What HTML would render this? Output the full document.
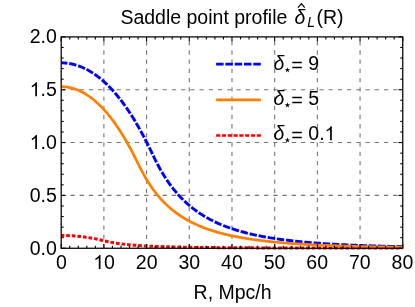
<!DOCTYPE html>
<html><head><meta charset="utf-8"><title>Saddle point profile</title>
<style>
html,body{margin:0;padding:0;background:#fff;}
svg{display:block;will-change:transform;}
text{font-family:"Liberation Sans",sans-serif;font-size:19.5px;fill:#000;}
.it{font-style:italic;}
</style></head><body>
<svg width="415" height="307" viewBox="0 0 415 307">
<rect x="0" y="0" width="415" height="307" fill="#fff"/>
<g stroke="#767676" stroke-width="1.1" stroke-dasharray="4.3 4.92" fill="none">
<line x1="103.89" y1="248.25" x2="103.89" y2="36.9"/>
<line x1="146.59" y1="248.25" x2="146.59" y2="36.9"/>
<line x1="189.28" y1="248.25" x2="189.28" y2="36.9"/>
<line x1="231.98" y1="248.25" x2="231.98" y2="36.9"/>
<line x1="274.67" y1="248.25" x2="274.67" y2="36.9"/>
<line x1="317.36" y1="248.25" x2="317.36" y2="36.9"/>
<line x1="360.06" y1="248.25" x2="360.06" y2="36.9"/>
<line x1="61.2" y1="195.41" x2="402.75" y2="195.41"/>
<line x1="61.2" y1="142.57" x2="402.75" y2="142.57"/>
<line x1="61.2" y1="89.74" x2="402.75" y2="89.74"/>
</g>
<clipPath id="c"><rect x="61.2" y="36.9" width="341.55" height="214.35"/></clipPath>
<g fill="none" clip-path="url(#c)">
<path d="M61.20,235.48 L62.27,235.48 L63.33,235.49 L64.40,235.51 L65.47,235.53 L66.54,235.56 L67.60,235.59 L68.67,235.64 L69.74,235.69 L70.81,235.74 L71.87,235.80 L72.94,235.87 L74.01,235.95 L75.08,236.03 L76.14,236.12 L77.21,236.22 L78.28,236.32 L79.34,236.43 L80.41,236.54 L81.48,236.66 L82.55,236.79 L83.61,236.93 L84.68,237.07 L85.75,237.22 L86.82,237.37 L87.88,237.53 L88.95,237.70 L90.02,237.88 L91.09,238.06 L92.15,238.24 L93.22,238.44 L94.29,238.64 L95.36,238.85 L96.42,239.06 L97.49,239.28 L98.56,239.51 L99.62,239.74 L100.69,239.97 L101.76,240.22 L102.83,240.46 L103.89,240.71 L104.96,240.97 L106.03,241.22 L107.10,241.47 L108.16,241.70 L109.23,241.93 L110.30,242.14 L111.37,242.35 L112.43,242.55 L113.50,242.74 L114.57,242.92 L115.63,243.10 L116.70,243.26 L117.77,243.42 L118.84,243.58 L119.90,243.72 L120.97,243.86 L122.04,244.00 L123.11,244.13 L124.17,244.25 L125.24,244.37 L126.31,244.48 L127.38,244.59 L128.44,244.70 L129.51,244.80 L130.58,244.90 L131.64,244.99 L132.71,245.08 L133.78,245.17 L134.85,245.25 L135.91,245.33 L136.98,245.41 L138.05,245.48 L139.12,245.56 L140.18,245.62 L141.25,245.69 L142.32,245.76 L143.39,245.82 L144.45,245.88 L145.52,245.94 L146.59,246.00 L147.65,246.05 L148.72,246.10 L149.79,246.15 L150.86,246.20 L151.92,246.25 L152.99,246.30 L154.06,246.34 L155.13,246.39 L156.19,246.43 L157.26,246.47 L158.33,246.51 L159.40,246.55 L160.46,246.58 L161.53,246.62 L162.60,246.65 L163.67,246.69 L164.73,246.72 L165.80,246.75 L166.87,246.79 L167.93,246.82 L169.00,246.84 L170.07,246.87 L171.14,246.90 L172.20,246.93 L173.27,246.95 L174.34,246.98 L175.41,247.01 L176.47,247.03 L177.54,247.05 L178.61,247.08 L179.68,247.10 L180.74,247.12 L181.81,247.14 L182.88,247.16 L183.94,247.18 L185.01,247.20 L186.08,247.22 L187.15,247.24 L188.21,247.26 L189.28,247.28 L190.35,247.29 L191.42,247.31 L192.48,247.33 L193.55,247.34 L194.62,247.36 L195.69,247.38 L196.75,247.39 L197.82,247.41 L198.89,247.42 L199.95,247.43 L201.02,247.45 L202.09,247.46 L203.16,247.47 L204.22,247.49 L205.29,247.50 L206.36,247.51 L207.43,247.52 L208.49,247.54 L209.56,247.55 L210.63,247.56 L211.70,247.57 L212.76,247.58 L213.83,247.59 L214.90,247.60 L215.96,247.61 L217.03,247.62 L218.10,247.63 L219.17,247.64 L220.23,247.65 L221.30,247.66 L222.37,247.67 L223.44,247.68 L224.50,247.68 L225.57,247.69 L226.64,247.70 L227.71,247.71 L228.77,247.72 L229.84,247.72 L230.91,247.73 L231.98,247.74 L234.11,247.75 L236.24,247.77 L238.38,247.78 L240.51,247.79 L242.65,247.81 L244.78,247.82 L246.92,247.83 L249.05,247.84 L251.19,247.85 L253.32,247.86 L255.46,247.87 L257.59,247.88 L259.73,247.89 L261.86,247.90 L264.00,247.90 L266.13,247.91 L268.26,247.92 L270.40,247.93 L272.53,247.93 L274.67,247.94 L276.80,247.95 L278.94,247.95 L281.07,247.96 L283.21,247.97 L285.34,247.97 L287.48,247.98 L289.61,247.98 L291.75,247.99 L293.88,247.99 L296.02,248.00 L298.15,248.00 L300.29,248.01 L302.42,248.01 L304.55,248.01 L306.69,248.02 L308.82,248.02 L310.96,248.03 L313.09,248.03 L315.23,248.03 L317.36,248.04 L319.50,248.04 L321.63,248.04 L323.77,248.05 L325.90,248.05 L328.04,248.05 L330.17,248.06 L332.31,248.06 L334.44,248.06 L336.57,248.06 L338.71,248.07 L340.84,248.07 L342.98,248.07 L345.11,248.07 L347.25,248.07 L349.38,248.08 L351.52,248.08 L353.65,248.08 L355.79,248.08 L357.92,248.08 L360.06,248.09 L362.19,248.09 L364.33,248.09 L366.46,248.09 L368.59,248.09 L370.73,248.09 L372.86,248.10 L375.00,248.10 L377.13,248.10 L379.27,248.10 L381.40,248.10 L383.54,248.10 L385.67,248.10 L387.81,248.10 L389.94,248.11 L392.08,248.11 L394.21,248.11 L396.35,248.11 L398.48,248.11 L400.62,248.11 L402.75,248.11" stroke="#ff0000" stroke-width="3.0" stroke-dasharray="3.7 1.9" stroke-dashoffset="0.6"/>
<path d="M61.20,62.85 L62.27,62.86 L63.33,62.89 L64.40,62.95 L65.47,63.03 L66.54,63.14 L67.60,63.26 L68.67,63.41 L69.74,63.59 L70.81,63.78 L71.87,64.00 L72.94,64.24 L74.01,64.51 L75.08,64.80 L76.14,65.11 L77.21,65.44 L78.28,65.80 L79.34,66.19 L80.41,66.59 L81.48,67.02 L82.55,67.47 L83.61,67.95 L84.68,68.45 L85.75,68.97 L86.82,69.52 L87.88,70.09 L88.95,70.69 L90.02,71.31 L91.09,71.95 L92.15,72.62 L93.22,73.32 L94.29,74.03 L95.36,74.78 L96.42,75.54 L97.49,76.33 L98.56,77.15 L99.62,77.99 L100.69,78.86 L101.76,79.75 L102.83,80.67 L103.89,81.61 L104.96,82.58 L106.03,83.58 L107.10,84.60 L108.16,85.65 L109.23,86.72 L110.30,87.82 L111.37,88.95 L112.43,90.10 L113.50,91.28 L114.57,92.49 L115.63,93.72 L116.70,94.98 L117.77,96.27 L118.84,97.59 L119.90,98.94 L120.97,100.31 L122.04,101.71 L123.11,103.14 L124.17,104.60 L125.24,106.09 L126.31,107.60 L127.38,109.15 L128.44,110.73 L129.51,112.33 L130.58,113.96 L131.64,115.63 L132.71,117.32 L133.78,119.05 L134.85,120.80 L135.91,122.59 L136.98,124.40 L138.05,126.25 L139.12,128.13 L140.18,130.04 L141.25,131.97 L142.32,133.94 L143.39,135.94 L144.45,137.97 L145.52,140.03 L146.59,142.11 L147.65,144.23 L148.72,146.37 L149.79,148.54 L150.86,150.72 L151.92,152.93 L152.99,155.15 L154.06,157.36 L155.13,159.53 L156.19,161.65 L157.26,163.71 L158.33,165.73 L159.40,167.69 L160.46,169.60 L161.53,171.45 L162.60,173.26 L163.67,175.01 L164.73,176.72 L165.80,178.38 L166.87,180.00 L167.93,181.57 L169.00,183.09 L170.07,184.58 L171.14,186.02 L172.20,187.43 L173.27,188.79 L174.34,190.12 L175.41,191.42 L176.47,192.68 L177.54,193.90 L178.61,195.10 L179.68,196.26 L180.74,197.39 L181.81,198.49 L182.88,199.56 L183.94,200.61 L185.01,201.62 L186.08,202.61 L187.15,203.58 L188.21,204.52 L189.28,205.44 L190.35,206.33 L191.42,207.21 L192.48,208.06 L193.55,208.89 L194.62,209.69 L195.69,210.48 L196.75,211.25 L197.82,212.00 L198.89,212.74 L199.95,213.45 L201.02,214.15 L202.09,214.83 L203.16,215.50 L204.22,216.15 L205.29,216.78 L206.36,217.40 L207.43,218.00 L208.49,218.60 L209.56,219.17 L210.63,219.74 L211.70,220.29 L212.76,220.83 L213.83,221.35 L214.90,221.87 L215.96,222.37 L217.03,222.86 L218.10,223.34 L219.17,223.81 L220.23,224.27 L221.30,224.72 L222.37,225.16 L223.44,225.59 L224.50,226.01 L225.57,226.43 L226.64,226.83 L227.71,227.22 L228.77,227.61 L229.84,227.99 L230.91,228.36 L231.98,228.72 L234.11,229.42 L236.24,230.09 L238.38,230.74 L240.51,231.35 L242.65,231.95 L244.78,232.52 L246.92,233.06 L249.05,233.59 L251.19,234.09 L253.32,234.58 L255.46,235.05 L257.59,235.49 L259.73,235.92 L261.86,236.34 L264.00,236.74 L266.13,237.12 L268.26,237.49 L270.40,237.85 L272.53,238.19 L274.67,238.52 L276.80,238.84 L278.94,239.15 L281.07,239.44 L283.21,239.73 L285.34,240.00 L287.48,240.27 L289.61,240.52 L291.75,240.77 L293.88,241.01 L296.02,241.24 L298.15,241.46 L300.29,241.67 L302.42,241.88 L304.55,242.08 L306.69,242.27 L308.82,242.46 L310.96,242.64 L313.09,242.81 L315.23,242.98 L317.36,243.14 L319.50,243.30 L321.63,243.45 L323.77,243.59 L325.90,243.73 L328.04,243.87 L330.17,244.00 L332.31,244.13 L334.44,244.25 L336.57,244.37 L338.71,244.49 L340.84,244.60 L342.98,244.71 L345.11,244.81 L347.25,244.91 L349.38,245.01 L351.52,245.10 L353.65,245.20 L355.79,245.28 L357.92,245.37 L360.06,245.45 L362.19,245.53 L364.33,245.61 L366.46,245.68 L368.59,245.75 L370.73,245.82 L372.86,245.88 L375.00,245.95 L377.13,246.01 L379.27,246.07 L381.40,246.12 L383.54,246.18 L385.67,246.23 L387.81,246.28 L389.94,246.33 L392.08,246.37 L394.21,246.42 L396.35,246.46 L398.48,246.50 L400.62,246.54 L402.75,246.57" stroke="#0000ff" stroke-width="2.9" stroke-dasharray="7.43 1.8" stroke-dashoffset="1.2"/>
<path d="M61.20,86.67 L62.27,86.69 L63.33,86.73 L64.40,86.80 L65.47,86.90 L66.54,87.03 L67.60,87.18 L68.67,87.36 L69.74,87.57 L70.81,87.81 L71.87,88.08 L72.94,88.38 L74.01,88.70 L75.08,89.05 L76.14,89.43 L77.21,89.84 L78.28,90.28 L79.34,90.75 L80.41,91.24 L81.48,91.76 L82.55,92.32 L83.61,92.90 L84.68,93.51 L85.75,94.15 L86.82,94.82 L87.88,95.52 L88.95,96.24 L90.02,97.00 L91.09,97.79 L92.15,98.60 L93.22,99.45 L94.29,100.33 L95.36,101.23 L96.42,102.17 L97.49,103.14 L98.56,104.13 L99.62,105.16 L100.69,106.22 L101.76,107.31 L102.83,108.43 L103.89,109.58 L104.96,110.77 L106.03,111.98 L107.10,113.23 L108.16,114.51 L109.23,115.82 L110.30,117.16 L111.37,118.53 L112.43,119.94 L113.50,121.38 L114.57,122.85 L115.63,124.36 L116.70,125.90 L117.77,127.47 L118.84,129.08 L119.90,130.71 L120.97,132.39 L122.04,134.09 L123.11,135.83 L124.17,137.61 L125.24,139.41 L126.31,141.25 L127.38,143.13 L128.44,145.03 L129.51,146.98 L130.58,148.95 L131.64,150.95 L132.71,152.99 L133.78,155.05 L134.85,157.15 L135.91,159.27 L136.98,161.41 L138.05,163.57 L139.12,165.73 L140.18,167.87 L141.25,169.95 L142.32,171.98 L143.39,173.95 L144.45,175.86 L145.52,177.72 L146.59,179.52 L147.65,181.27 L148.72,182.97 L149.79,184.61 L150.86,186.21 L151.92,187.75 L152.99,189.25 L154.06,190.70 L155.13,192.11 L156.19,193.48 L157.26,194.81 L158.33,196.10 L159.40,197.35 L160.46,198.56 L161.53,199.74 L162.60,200.88 L163.67,201.99 L164.73,203.07 L165.80,204.12 L166.87,205.13 L167.93,206.12 L169.00,207.08 L170.07,208.02 L171.14,208.93 L172.20,209.81 L173.27,210.67 L174.34,211.51 L175.41,212.32 L176.47,213.11 L177.54,213.88 L178.61,214.63 L179.68,215.36 L180.74,216.07 L181.81,216.76 L182.88,217.44 L183.94,218.09 L185.01,218.73 L186.08,219.35 L187.15,219.96 L188.21,220.55 L189.28,221.13 L190.35,221.69 L191.42,222.24 L192.48,222.78 L193.55,223.30 L194.62,223.81 L195.69,224.30 L196.75,224.79 L197.82,225.26 L198.89,225.72 L199.95,226.17 L201.02,226.61 L202.09,227.04 L203.16,227.46 L204.22,227.87 L205.29,228.27 L206.36,228.66 L207.43,229.04 L208.49,229.42 L209.56,229.78 L210.63,230.14 L211.70,230.48 L212.76,230.82 L213.83,231.16 L214.90,231.48 L215.96,231.80 L217.03,232.11 L218.10,232.41 L219.17,232.71 L220.23,233.00 L221.30,233.28 L222.37,233.56 L223.44,233.83 L224.50,234.10 L225.57,234.36 L226.64,234.62 L227.71,234.87 L228.77,235.11 L229.84,235.35 L230.91,235.58 L231.98,235.81 L234.11,236.26 L236.24,236.68 L238.38,237.09 L240.51,237.48 L242.65,237.86 L244.78,238.22 L246.92,238.57 L249.05,238.90 L251.19,239.22 L253.32,239.53 L255.46,239.83 L257.59,240.11 L259.73,240.38 L261.86,240.65 L264.00,240.90 L266.13,241.15 L268.26,241.38 L270.40,241.61 L272.53,241.83 L274.67,242.04 L276.80,242.24 L278.94,242.43 L281.07,242.62 L283.21,242.80 L285.34,242.98 L287.48,243.15 L289.61,243.31 L291.75,243.47 L293.88,243.62 L296.02,243.77 L298.15,243.91 L300.29,244.04 L302.42,244.18 L304.55,244.30 L306.69,244.43 L308.82,244.55 L310.96,244.66 L313.09,244.77 L315.23,244.88 L317.36,244.98 L319.50,245.08 L321.63,245.18 L323.77,245.27 L325.90,245.36 L328.04,245.45 L330.17,245.53 L332.31,245.62 L334.44,245.70 L336.57,245.77 L338.71,245.85 L340.84,245.92 L342.98,245.99 L345.11,246.05 L347.25,246.12 L349.38,246.18 L351.52,246.24 L353.65,246.30 L355.79,246.36 L357.92,246.41 L360.06,246.46 L362.19,246.51 L364.33,246.56 L366.46,246.61 L368.59,246.66 L370.73,246.70 L372.86,246.74 L375.00,246.78 L377.13,246.82 L379.27,246.86 L381.40,246.90 L383.54,246.94 L385.67,246.97 L387.81,247.00 L389.94,247.03 L392.08,247.06 L394.21,247.09 L396.35,247.12 L398.48,247.15 L400.62,247.17 L402.75,247.19" stroke="#ff7f00" stroke-width="2.7"/>
</g>
<rect x="61.2" y="36.9" width="341.55" height="211.35" fill="none" stroke="#000" stroke-width="1.25"/>
<g stroke="#000" stroke-width="1.1" fill="none">
<line x1="61.20" y1="248.25" x2="61.20" y2="243.95"/><line x1="61.20" y1="36.9" x2="61.20" y2="41.199999999999996"/>
<line x1="69.74" y1="248.25" x2="69.74" y2="245.75"/><line x1="69.74" y1="36.9" x2="69.74" y2="39.4"/>
<line x1="78.28" y1="248.25" x2="78.28" y2="245.75"/><line x1="78.28" y1="36.9" x2="78.28" y2="39.4"/>
<line x1="86.82" y1="248.25" x2="86.82" y2="245.75"/><line x1="86.82" y1="36.9" x2="86.82" y2="39.4"/>
<line x1="95.36" y1="248.25" x2="95.36" y2="245.75"/><line x1="95.36" y1="36.9" x2="95.36" y2="39.4"/>
<line x1="103.89" y1="248.25" x2="103.89" y2="243.95"/><line x1="103.89" y1="36.9" x2="103.89" y2="41.199999999999996"/>
<line x1="112.43" y1="248.25" x2="112.43" y2="245.75"/><line x1="112.43" y1="36.9" x2="112.43" y2="39.4"/>
<line x1="120.97" y1="248.25" x2="120.97" y2="245.75"/><line x1="120.97" y1="36.9" x2="120.97" y2="39.4"/>
<line x1="129.51" y1="248.25" x2="129.51" y2="245.75"/><line x1="129.51" y1="36.9" x2="129.51" y2="39.4"/>
<line x1="138.05" y1="248.25" x2="138.05" y2="245.75"/><line x1="138.05" y1="36.9" x2="138.05" y2="39.4"/>
<line x1="146.59" y1="248.25" x2="146.59" y2="243.95"/><line x1="146.59" y1="36.9" x2="146.59" y2="41.199999999999996"/>
<line x1="155.13" y1="248.25" x2="155.13" y2="245.75"/><line x1="155.13" y1="36.9" x2="155.13" y2="39.4"/>
<line x1="163.67" y1="248.25" x2="163.67" y2="245.75"/><line x1="163.67" y1="36.9" x2="163.67" y2="39.4"/>
<line x1="172.20" y1="248.25" x2="172.20" y2="245.75"/><line x1="172.20" y1="36.9" x2="172.20" y2="39.4"/>
<line x1="180.74" y1="248.25" x2="180.74" y2="245.75"/><line x1="180.74" y1="36.9" x2="180.74" y2="39.4"/>
<line x1="189.28" y1="248.25" x2="189.28" y2="243.95"/><line x1="189.28" y1="36.9" x2="189.28" y2="41.199999999999996"/>
<line x1="197.82" y1="248.25" x2="197.82" y2="245.75"/><line x1="197.82" y1="36.9" x2="197.82" y2="39.4"/>
<line x1="206.36" y1="248.25" x2="206.36" y2="245.75"/><line x1="206.36" y1="36.9" x2="206.36" y2="39.4"/>
<line x1="214.90" y1="248.25" x2="214.90" y2="245.75"/><line x1="214.90" y1="36.9" x2="214.90" y2="39.4"/>
<line x1="223.44" y1="248.25" x2="223.44" y2="245.75"/><line x1="223.44" y1="36.9" x2="223.44" y2="39.4"/>
<line x1="231.98" y1="248.25" x2="231.98" y2="243.95"/><line x1="231.98" y1="36.9" x2="231.98" y2="41.199999999999996"/>
<line x1="240.51" y1="248.25" x2="240.51" y2="245.75"/><line x1="240.51" y1="36.9" x2="240.51" y2="39.4"/>
<line x1="249.05" y1="248.25" x2="249.05" y2="245.75"/><line x1="249.05" y1="36.9" x2="249.05" y2="39.4"/>
<line x1="257.59" y1="248.25" x2="257.59" y2="245.75"/><line x1="257.59" y1="36.9" x2="257.59" y2="39.4"/>
<line x1="266.13" y1="248.25" x2="266.13" y2="245.75"/><line x1="266.13" y1="36.9" x2="266.13" y2="39.4"/>
<line x1="274.67" y1="248.25" x2="274.67" y2="243.95"/><line x1="274.67" y1="36.9" x2="274.67" y2="41.199999999999996"/>
<line x1="283.21" y1="248.25" x2="283.21" y2="245.75"/><line x1="283.21" y1="36.9" x2="283.21" y2="39.4"/>
<line x1="291.75" y1="248.25" x2="291.75" y2="245.75"/><line x1="291.75" y1="36.9" x2="291.75" y2="39.4"/>
<line x1="300.29" y1="248.25" x2="300.29" y2="245.75"/><line x1="300.29" y1="36.9" x2="300.29" y2="39.4"/>
<line x1="308.82" y1="248.25" x2="308.82" y2="245.75"/><line x1="308.82" y1="36.9" x2="308.82" y2="39.4"/>
<line x1="317.36" y1="248.25" x2="317.36" y2="243.95"/><line x1="317.36" y1="36.9" x2="317.36" y2="41.199999999999996"/>
<line x1="325.90" y1="248.25" x2="325.90" y2="245.75"/><line x1="325.90" y1="36.9" x2="325.90" y2="39.4"/>
<line x1="334.44" y1="248.25" x2="334.44" y2="245.75"/><line x1="334.44" y1="36.9" x2="334.44" y2="39.4"/>
<line x1="342.98" y1="248.25" x2="342.98" y2="245.75"/><line x1="342.98" y1="36.9" x2="342.98" y2="39.4"/>
<line x1="351.52" y1="248.25" x2="351.52" y2="245.75"/><line x1="351.52" y1="36.9" x2="351.52" y2="39.4"/>
<line x1="360.06" y1="248.25" x2="360.06" y2="243.95"/><line x1="360.06" y1="36.9" x2="360.06" y2="41.199999999999996"/>
<line x1="368.59" y1="248.25" x2="368.59" y2="245.75"/><line x1="368.59" y1="36.9" x2="368.59" y2="39.4"/>
<line x1="377.13" y1="248.25" x2="377.13" y2="245.75"/><line x1="377.13" y1="36.9" x2="377.13" y2="39.4"/>
<line x1="385.67" y1="248.25" x2="385.67" y2="245.75"/><line x1="385.67" y1="36.9" x2="385.67" y2="39.4"/>
<line x1="394.21" y1="248.25" x2="394.21" y2="245.75"/><line x1="394.21" y1="36.9" x2="394.21" y2="39.4"/>
<line x1="402.75" y1="248.25" x2="402.75" y2="243.95"/><line x1="402.75" y1="36.9" x2="402.75" y2="41.199999999999996"/>
<line x1="61.2" y1="248.25" x2="65.5" y2="248.25"/><line x1="402.75" y1="248.25" x2="398.45" y2="248.25"/>
<line x1="61.2" y1="237.68" x2="63.7" y2="237.68"/><line x1="402.75" y1="237.68" x2="400.25" y2="237.68"/>
<line x1="61.2" y1="227.12" x2="63.7" y2="227.12"/><line x1="402.75" y1="227.12" x2="400.25" y2="227.12"/>
<line x1="61.2" y1="216.55" x2="63.7" y2="216.55"/><line x1="402.75" y1="216.55" x2="400.25" y2="216.55"/>
<line x1="61.2" y1="205.98" x2="63.7" y2="205.98"/><line x1="402.75" y1="205.98" x2="400.25" y2="205.98"/>
<line x1="61.2" y1="195.41" x2="65.5" y2="195.41"/><line x1="402.75" y1="195.41" x2="398.45" y2="195.41"/>
<line x1="61.2" y1="184.84" x2="63.7" y2="184.84"/><line x1="402.75" y1="184.84" x2="400.25" y2="184.84"/>
<line x1="61.2" y1="174.28" x2="63.7" y2="174.28"/><line x1="402.75" y1="174.28" x2="400.25" y2="174.28"/>
<line x1="61.2" y1="163.71" x2="63.7" y2="163.71"/><line x1="402.75" y1="163.71" x2="400.25" y2="163.71"/>
<line x1="61.2" y1="153.14" x2="63.7" y2="153.14"/><line x1="402.75" y1="153.14" x2="400.25" y2="153.14"/>
<line x1="61.2" y1="142.57" x2="65.5" y2="142.57"/><line x1="402.75" y1="142.57" x2="398.45" y2="142.57"/>
<line x1="61.2" y1="132.01" x2="63.7" y2="132.01"/><line x1="402.75" y1="132.01" x2="400.25" y2="132.01"/>
<line x1="61.2" y1="121.44" x2="63.7" y2="121.44"/><line x1="402.75" y1="121.44" x2="400.25" y2="121.44"/>
<line x1="61.2" y1="110.87" x2="63.7" y2="110.87"/><line x1="402.75" y1="110.87" x2="400.25" y2="110.87"/>
<line x1="61.2" y1="100.30" x2="63.7" y2="100.30"/><line x1="402.75" y1="100.30" x2="400.25" y2="100.30"/>
<line x1="61.2" y1="89.74" x2="65.5" y2="89.74"/><line x1="402.75" y1="89.74" x2="398.45" y2="89.74"/>
<line x1="61.2" y1="79.17" x2="63.7" y2="79.17"/><line x1="402.75" y1="79.17" x2="400.25" y2="79.17"/>
<line x1="61.2" y1="68.60" x2="63.7" y2="68.60"/><line x1="402.75" y1="68.60" x2="400.25" y2="68.60"/>
<line x1="61.2" y1="58.03" x2="63.7" y2="58.03"/><line x1="402.75" y1="58.03" x2="400.25" y2="58.03"/>
<line x1="61.2" y1="47.47" x2="63.7" y2="47.47"/><line x1="402.75" y1="47.47" x2="400.25" y2="47.47"/>
<line x1="61.2" y1="36.90" x2="65.5" y2="36.90"/><line x1="402.75" y1="36.90" x2="398.45" y2="36.90"/>
</g>
<text x="56.03" y="268.90">0</text>
<path d="M763 0H583V1147Q518 1085 412.5 1023T223 930V1104Q374 1175 487 1276T647 1472H763Z" transform="translate(93.23,268.90) scale(0.009521,-0.009521)" fill="#000"/><text x="104.07" y="268.90">0</text>
<text x="135.86" y="268.90">20</text>
<text x="178.48" y="268.90">30</text>
<text x="221.10" y="268.90">40</text>
<text x="263.73" y="268.90">50</text>
<text x="306.35" y="268.90">60</text>
<text x="348.97" y="268.90">70</text>
<text x="391.60" y="268.90">80</text>
<text x="29.69" y="254.70">0.0</text>
<text x="29.69" y="201.86">0.5</text>
<path d="M763 0H583V1147Q518 1085 412.5 1023T223 930V1104Q374 1175 487 1276T647 1472H763Z" transform="translate(29.69,149.02) scale(0.009521,-0.009521)" fill="#000"/><text x="40.54" y="149.02">.0</text>
<path d="M763 0H583V1147Q518 1085 412.5 1023T223 930V1104Q374 1175 487 1276T647 1472H763Z" transform="translate(29.69,96.19) scale(0.009521,-0.009521)" fill="#000"/><text x="40.54" y="96.19">.5</text>
<text x="29.69" y="43.35">2.0</text>
<text x="120.4" y="23.7">Saddle point profile</text>
<text x="294.5" y="23.7" class="it">δ</text>
<path d="M297.9,7.7 L301.4,3.6 L304.7,7.7" fill="none" stroke="#000" stroke-width="1.2" stroke-linejoin="miter"/>
<text x="307.2" y="27.4" class="it" style="font-size:13.9px">L</text>
<text x="316.5" y="23.7">(R)</text>
<text x="232.6" y="298.5" text-anchor="middle">R, Mpc/h</text>
<line x1="216.1" y1="64.20" x2="260.9" y2="64.20" stroke="#0000ff" stroke-width="2.7" stroke-dasharray="7.5 1.8"/>
<text x="273.6" y="70.10" class="it">δ</text>
<polygon points="287.45,67.15 288.08,69.18 290.21,69.15 288.47,70.38 289.15,72.40 287.45,71.12 285.75,72.40 286.43,70.38 284.69,69.15 286.82,69.18" fill="#000"/>
<path d="M292.3,62.40 H301.8 M292.3,67.40 H301.8" stroke="#000" stroke-width="1.5" fill="none"/>
<text x="308.30" y="70.10">9</text>
<line x1="216.1" y1="99.85" x2="260.9" y2="99.85" stroke="#ff7f00" stroke-width="2.7"/>
<text x="273.6" y="105.20" class="it">δ</text>
<polygon points="287.45,102.25 288.08,104.28 290.21,104.25 288.47,105.48 289.15,107.50 287.45,106.22 285.75,107.50 286.43,105.48 284.69,104.25 286.82,104.28" fill="#000"/>
<path d="M292.3,97.50 H301.8 M292.3,102.50 H301.8" stroke="#000" stroke-width="1.5" fill="none"/>
<text x="308.30" y="105.20">5</text>
<line x1="216.1" y1="135.50" x2="260.9" y2="135.50" stroke="#ff0000" stroke-width="2.7" stroke-dasharray="4.2 1.6"/>
<text x="273.6" y="140.30" class="it">δ</text>
<polygon points="287.45,137.35 288.08,139.38 290.21,139.35 288.47,140.58 289.15,142.60 287.45,141.32 285.75,142.60 286.43,140.58 284.69,139.35 286.82,139.38" fill="#000"/>
<path d="M292.3,132.60 H301.8 M292.3,137.60 H301.8" stroke="#000" stroke-width="1.5" fill="none"/>
<text x="308.30" y="140.30">0.</text><path d="M763 0H583V1147Q518 1085 412.5 1023T223 930V1104Q374 1175 487 1276T647 1472H763Z" transform="translate(324.56,140.30) scale(0.009521,-0.009521)" fill="#000"/>
</svg></body></html>
